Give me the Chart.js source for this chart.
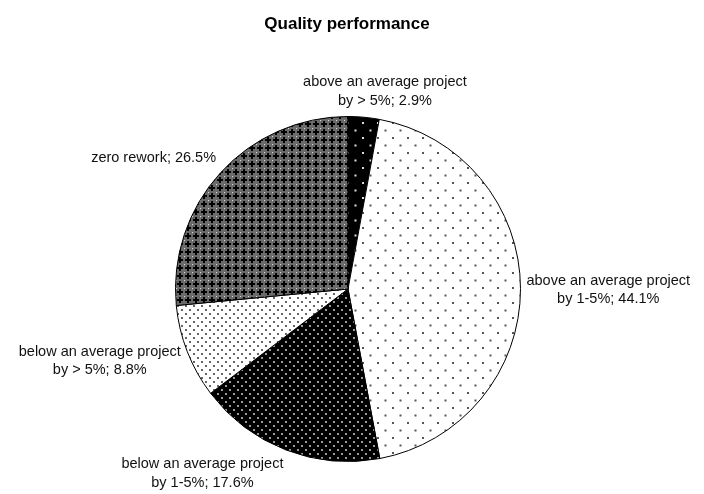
<!DOCTYPE html>
<html>
<head>
<meta charset="utf-8">
<script src="https://cdn.jsdelivr.net/npm/chart.js@4/dist/chart.umd.min.js"></script>
<style>
  html, body { margin: 0; padding: 0; background: #fff; }
  #wrap { width: 704px; height: 494px; }
</style>
</head>
<body>
<div id="wrap"><canvas id="c" width="704" height="494"></canvas></div>
<script>
// Quality performance – share of projects by rework relative to an average project
const chartTitle = "Quality performance";
const categories = [
  "above an average project by > 5%",
  "above an average project by 1-5%",
  "below an average project by 1-5%",
  "below an average project by > 5%",
  "zero rework"
];
const labelHeads = [
  ["above an average project", "by > 5%"],
  ["above an average project", "by 1-5%"],
  ["below an average project", "by 1-5%"],
  ["below an average project", "by > 5%"],
  ["zero rework"]
];
const shares = [2.9, 44.1, 17.6, 8.8, 26.5];

// label block centres, in units of the pie radius from the pie centre
const labelSpots = [
  [0.214, -1.145],
  [1.509, 0.006],
  [-0.844, 1.069],
  [-1.439, 0.416],
  [-1.127, -0.757]
];

function makePattern(w, h, paint) {
  const c = document.createElement('canvas');
  c.width = w; c.height = h;
  const g = c.getContext('2d');
  paint(g);
  return g.createPattern(c, 'repeat');
}
function dots(g, bg, fg, pts, s) {
  g.fillStyle = bg; g.fillRect(0, 0, g.canvas.width, g.canvas.height);
  g.fillStyle = fg;
  pts.forEach(p => g.fillRect(p[0], p[1], s, s));
}

const ctx0 = document.getElementById('c').getContext('2d');
const fills = [
  makePattern(15, 15, g => dots(g, '#000', '#ddd', [[2, 2], [9.5, 9.5]], 2)),
  makePattern(15, 15, g => dots(g, '#fff', '#555', [[2, 2], [9.5, 9.5]], 2)),
  makePattern(8, 8, g => dots(g, '#000', '#999', [[1, 1], [5, 5]], 2)),
  makePattern(8, 8, g => dots(g, '#fff', '#666', [[1, 1], [5, 5]], 2)),
  makePattern(8, 8, g => {
    g.fillStyle = '#6a6a6a'; g.fillRect(0, 0, 8, 8);
    g.fillStyle = '#000';
    g.fillRect(3, 1, 2, 6);
    g.fillRect(1, 3, 6, 2);
    g.fillStyle = '#ddd';
    g.fillRect(0, 0, 1, 1);
  })
];

const labelPlugin = {
  id: 'sliceLabels',
  afterDraw(chart) {
    const ctx = chart.ctx;
    const arcs = chart.getDatasetMeta(0).data;
    const cx = arcs[0].x, cy = arcs[0].y, r = arcs[0].outerRadius;
    ctx.save();
    ctx.fillStyle = '#000';
    ctx.textAlign = 'center';
    ctx.textBaseline = 'middle';
    ctx.font = 'bold 17px "Liberation Sans", Arial, sans-serif';
    ctx.fillText(chartTitle, chart.width / 2 - 5, 24);

    ctx.fillStyle = '#111';
    ctx.font = '14.5px "Liberation Sans", Arial, sans-serif';
    const lh = 18.5;
    shares.forEach((v, i) => {
      const head = labelHeads[i];
      const lines = head.length > 1
        ? [head[0], head[1] + '; ' + v.toFixed(1) + '%']
        : [head[0] + '; ' + v.toFixed(1) + '%'];
      const x = cx + labelSpots[i][0] * r;
      const y0 = cy + labelSpots[i][1] * r - (lines.length - 1) * lh / 2;
      lines.forEach((t, k) => ctx.fillText(t, x, y0 + k * lh));
    });
    ctx.restore();
  }
};

new Chart(ctx0, {
  type: 'pie',
  data: {
    labels: categories,
    datasets: [{
      data: shares,
      backgroundColor: fills,
      borderColor: '#000',
      borderWidth: 1
    }]
  },
  options: {
    responsive: false,
    animation: false,
    layout: { padding: { top: 116, bottom: 32, left: 0, right: 8 } },
    plugins: {
      legend: { display: false },
      tooltip: { enabled: false },
      title: { display: false }
    }
  },
  plugins: [labelPlugin]
});
</script>
</body>
</html>
